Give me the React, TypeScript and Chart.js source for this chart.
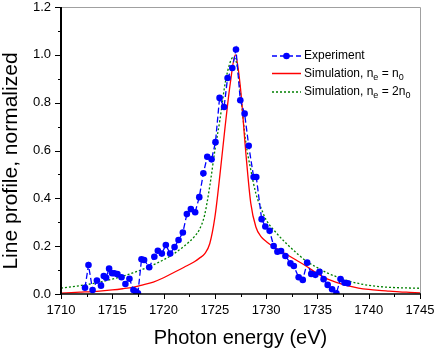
import React, { useEffect, useRef } from 'react';
import { Chart, registerables } from 'chart.js';

Chart.register(...registerables);

// Experiment (blue dots, dashed line)
const expEnergy = [
  1712.34, 1712.68, 1713.08, 1713.5, 1713.9, 1714.17, 1714.4, 1714.69, 1714.98, 1715.2,
  1715.5, 1715.9, 1716.28, 1716.67, 1717.06, 1717.3, 1717.5, 1717.85, 1718.1, 1718.6,
  1719.1, 1719.44, 1719.83, 1720.22, 1720.64, 1721.07, 1721.46, 1721.88, 1722.27, 1722.66,
  1723.08, 1723.48, 1723.88, 1724.26, 1724.68, 1725.06, 1725.46, 1725.9, 1726.24, 1726.7,
  1727.06, 1727.48, 1727.9, 1728.3, 1728.78, 1729.04, 1729.56, 1729.92, 1730.34, 1730.73,
  1731.1, 1731.45, 1731.88, 1732.37, 1732.7, 1733.17, 1733.57, 1734.0, 1734.4, 1734.8,
  1735.2, 1735.6, 1736.0, 1736.43, 1736.85, 1737.25, 1737.64, 1737.96,
];
const expValue = [
  0.026, 0.121, 0.017, 0.056, 0.035, 0.075, 0.068, 0.106, 0.087, 0.087,
  0.083, 0.07, 0.042, 0.064, 0.017, 0.01, 0.003, 0.145, 0.142, 0.112,
  0.156, 0.181, 0.169, 0.205, 0.169, 0.196, 0.226, 0.257, 0.334, 0.355,
  0.342, 0.405, 0.505, 0.574, 0.563, 0.635, 0.82, 0.782, 0.903, 0.945,
  1.022, 0.81, 0.754, 0.62, 0.489, 0.489, 0.313, 0.282, 0.264, 0.201,
  0.177, 0.18, 0.159, 0.128, 0.117, 0.07, 0.059, 0.131, 0.084, 0.08,
  0.093, 0.062, 0.038, 0.02, 0.003, 0.063, 0.047, 0.045,
];

// Simulation, ne = n0 (red solid)
const sim1Energy = [
  1710, 1711, 1712, 1713, 1714, 1715, 1716, 1717, 1718, 1719, 1720, 1721, 1722, 1723,
  1723.5, 1724, 1724.5, 1725, 1725.5, 1726, 1726.5, 1727, 1727.5, 1728, 1728.5, 1729,
  1729.5, 1730, 1731, 1732, 1733, 1734, 1735, 1736, 1737, 1738, 1739, 1740, 1741, 1742,
  1743, 1744, 1745,
];
const sim1Value = [
  0.004, 0.006, 0.008, 0.01, 0.013, 0.017, 0.022, 0.028, 0.038, 0.05, 0.068, 0.09, 0.112, 0.135,
  0.15, 0.168, 0.21, 0.32, 0.5, 0.7, 0.88, 1.0, 0.86, 0.6, 0.38, 0.28,
  0.24, 0.22, 0.19, 0.165, 0.14, 0.114, 0.085, 0.062, 0.047, 0.034, 0.025, 0.019, 0.015, 0.012,
  0.009, 0.007, 0.005,
];

// Simulation, ne = 2n0 (green dotted)
const sim2Energy = [
  1710, 1711, 1712, 1713, 1714, 1715, 1716, 1717, 1718, 1719, 1720, 1721, 1722, 1723,
  1723.5, 1724, 1724.5, 1725, 1725.5, 1726, 1726.5, 1726.8, 1727.2, 1727.5, 1728, 1728.5,
  1729, 1729.5, 1730, 1731, 1732, 1733, 1734, 1735, 1736, 1737, 1738, 1739, 1740, 1741,
  1742, 1743, 1744, 1745,
];
const sim2Value = [
  0.025, 0.03, 0.036, 0.043, 0.052, 0.062, 0.074, 0.088, 0.104, 0.122, 0.143, 0.168, 0.2, 0.24,
  0.27, 0.33, 0.45, 0.6, 0.73, 0.88, 0.97, 0.99, 0.95, 0.84, 0.64, 0.52,
  0.42, 0.36, 0.31, 0.255, 0.21, 0.17, 0.135, 0.11, 0.087, 0.07, 0.055, 0.044, 0.036, 0.031,
  0.028, 0.026, 0.025, 0.024,
];

const xMajorTicks = [1710, 1715, 1720, 1725, 1730, 1735, 1740, 1745];
const xMinorTicks = [1712.5, 1717.5, 1722.5, 1727.5, 1732.5, 1737.5, 1742.5];
const yMajorTicks = [0, 0.2, 0.4, 0.6, 0.8, 1.0, 1.2];
const yMinorTicks = [0.1, 0.3, 0.5, 0.7, 0.9, 1.1];
const yTitle = 'Line profile, normalized';

const FONT = '"Liberation Sans", Arial, sans-serif';
const BLUE = '#0000ff';
const RED = '#ff0000';
const GREEN = '#008000';

const zip = (xs: number[], ys: number[]) => xs.map((x, i) => ({ x, y: ys[i] }));

const framePlugin = {
  id: 'frameAndTicks',
  afterDraw(chart: any) {
    const { ctx, chartArea } = chart;
    const xs = chart.scales.x;
    const ys = chart.scales.y;
    const { left, right, top, bottom } = chartArea;
    ctx.save();
    // top & right gray frame
    ctx.strokeStyle = '#a0a0a0';
    ctx.lineWidth = 1;
    ctx.beginPath();
    ctx.moveTo(left, top + 0.5);
    ctx.lineTo(right + 0.5, top + 0.5);
    ctx.lineTo(right + 0.5, bottom);
    ctx.stroke();
    // axes
    ctx.strokeStyle = '#000';
    ctx.lineWidth = 2;
    ctx.beginPath();
    ctx.moveTo(left, top);
    ctx.lineTo(left, bottom + 1);
    ctx.stroke();
    ctx.lineWidth = 1.5;
    ctx.beginPath();
    ctx.moveTo(left - 1, bottom);
    ctx.lineTo(right + 1, bottom);
    ctx.stroke();
    // ticks
    ctx.lineWidth = 1;
    ctx.beginPath();
    xMajorTicks.forEach((v) => {
      const p = Math.round(xs.getPixelForValue(v)) + 0.5;
      ctx.moveTo(p, bottom);
      ctx.lineTo(p, bottom + 5);
    });
    xMinorTicks.forEach((v) => {
      const p = Math.round(xs.getPixelForValue(v)) + 0.5;
      ctx.moveTo(p, bottom);
      ctx.lineTo(p, bottom + 3);
    });
    yMajorTicks.forEach((v) => {
      const p = Math.round(ys.getPixelForValue(v)) + 0.5;
      ctx.moveTo(left, p);
      ctx.lineTo(left - 6, p);
    });
    yMinorTicks.forEach((v) => {
      const p = Math.round(ys.getPixelForValue(v)) + 0.5;
      ctx.moveTo(left, p);
      ctx.lineTo(left - 3, p);
    });
    ctx.stroke();

    // y axis title
    ctx.save();
    ctx.translate(17, 161);
    ctx.rotate(-Math.PI / 2);
    ctx.font = `21px ${FONT}`;
    ctx.fillStyle = '#000';
    ctx.textAlign = 'center';
    ctx.textBaseline = 'alphabetic';
    ctx.fillText(yTitle, 0, 0);
    ctx.restore();

    // legend
    const lx0 = 272;
    const lx1 = 301;
    const tx = 304;
    const rows = [56, 73.5, 92];
    ctx.font = `12px ${FONT}`;
    ctx.textBaseline = 'middle';
    ctx.textAlign = 'left';
    ctx.fillStyle = '#000';
    // row 1
    ctx.strokeStyle = BLUE;
    ctx.lineWidth = 1.5;
    ctx.setLineDash([5, 3]);
    ctx.beginPath();
    ctx.moveTo(lx0, rows[0]);
    ctx.lineTo(lx1, rows[0]);
    ctx.stroke();
    ctx.setLineDash([]);
    ctx.fillStyle = BLUE;
    ctx.beginPath();
    ctx.arc((lx0 + lx1) / 2, rows[0], 3.3, 0, Math.PI * 2);
    ctx.fill();
    ctx.fillStyle = '#000';
    ctx.fillText('Experiment', tx, rows[0]);
    // row 2
    ctx.strokeStyle = RED;
    ctx.beginPath();
    ctx.moveTo(lx0, rows[1]);
    ctx.lineTo(lx1, rows[1]);
    ctx.stroke();
    // row 3
    ctx.strokeStyle = GREEN;
    ctx.setLineDash([2, 2]);
    ctx.beginPath();
    ctx.moveTo(lx0, rows[2]);
    ctx.lineTo(lx1, rows[2]);
    ctx.stroke();
    ctx.setLineDash([]);

    const drawSub = (parts: [string, boolean][], y: number) => {
      let x = tx;
      parts.forEach(([t, sub]) => {
        ctx.font = sub ? `9px ${FONT}` : `12px ${FONT}`;
        ctx.fillText(t, x, sub ? y + 4 : y);
        x += ctx.measureText(t).width;
      });
    };
    drawSub([['Simulation, n', false], ['e', true], [' = n', false], ['0', true]], rows[1]);
    drawSub([['Simulation, n', false], ['e', true], [' = 2n', false], ['0', true]], rows[2]);
    ctx.restore();
  },
};

export default function App() {
  const ref = useRef<HTMLCanvasElement | null>(null);
  useEffect(() => {
    if (!ref.current) return;
    const chart = new Chart(ref.current, {
      type: 'scatter',
      data: {
        datasets: [
          {
            label: 'Simulation, ne = 2n0',
            data: zip(sim2Energy, sim2Value),
            showLine: true,
            borderColor: GREEN,
            borderWidth: 1.3,
            borderDash: [2, 2],
            pointRadius: 0,
            cubicInterpolationMode: 'monotone',
            order: 3,
          },
          {
            label: 'Simulation, ne = n0',
            data: zip(sim1Energy, sim1Value),
            showLine: true,
            borderColor: RED,
            borderWidth: 1.3,
            pointRadius: 0,
            cubicInterpolationMode: 'monotone',
            order: 2,
          },
          {
            label: 'Experiment',
            data: zip(expEnergy, expValue),
            showLine: true,
            borderColor: BLUE,
            borderWidth: 1.3,
            borderDash: [6, 3],
            pointRadius: 3.3,
            pointBackgroundColor: BLUE,
            pointBorderColor: BLUE,
            pointBorderWidth: 0,
            order: 1,
          },
        ],
      },
      options: {
        responsive: false,
        animation: false,
        devicePixelRatio: 1,
        layout: { autoPadding: false, padding: { top: 7, right: 16, bottom: 0, left: 0 } },
        plugins: { legend: { display: false }, tooltip: { enabled: false } },
        scales: {
          x: {
            type: 'linear',
            min: 1710,
            max: 1745,
            afterFit: (s: any) => {
              s.height = 59;
              s.paddingLeft = 0;
              s.paddingRight = 0;
              s.paddingTop = 0;
              s.paddingBottom = 0;
            },
            afterBuildTicks: (s: any) => {
              s.ticks = xMajorTicks.map((v) => ({ value: v }));
            },
            ticks: {
              color: '#000',
              font: { size: 13, family: FONT },
              padding: 9,
              maxRotation: 0,
              autoSkip: false,
              callback: (v: any) => String(v),
            },
            grid: { display: false, drawTicks: false },
            border: { display: false },
            title: {
              display: true,
              text: 'Photon energy (eV)',
              color: '#000',
              font: { size: 20, family: FONT },
              padding: { top: 0, bottom: 3 },
            },
          },
          y: {
            type: 'linear',
            min: 0,
            max: 1.2,
            afterFit: (s: any) => {
              s.width = 61;
              s.paddingLeft = 0;
              s.paddingRight = 0;
              s.paddingTop = 0;
              s.paddingBottom = 0;
            },
            afterBuildTicks: (s: any) => {
              s.ticks = yMajorTicks.map((v) => ({ value: v }));
            },
            ticks: {
              color: '#000',
              font: { size: 13, family: FONT },
              padding: 10,
              autoSkip: false,
              callback: (v: any) => Number(v).toFixed(1),
            },
            grid: { display: false, drawTicks: false },
            border: { display: false },
            title: { display: false },
          },
        },
      },
      plugins: [framePlugin],
    } as any);
    return () => chart.destroy();
  }, []);
  return (
    <div style={{ position: 'fixed', left: 0, top: 0, width: 436, height: 353, background: '#fff' }}>
      <canvas ref={ref} width={436} height={353} style={{ width: 436, height: 353 }} />
    </div>
  );
}
